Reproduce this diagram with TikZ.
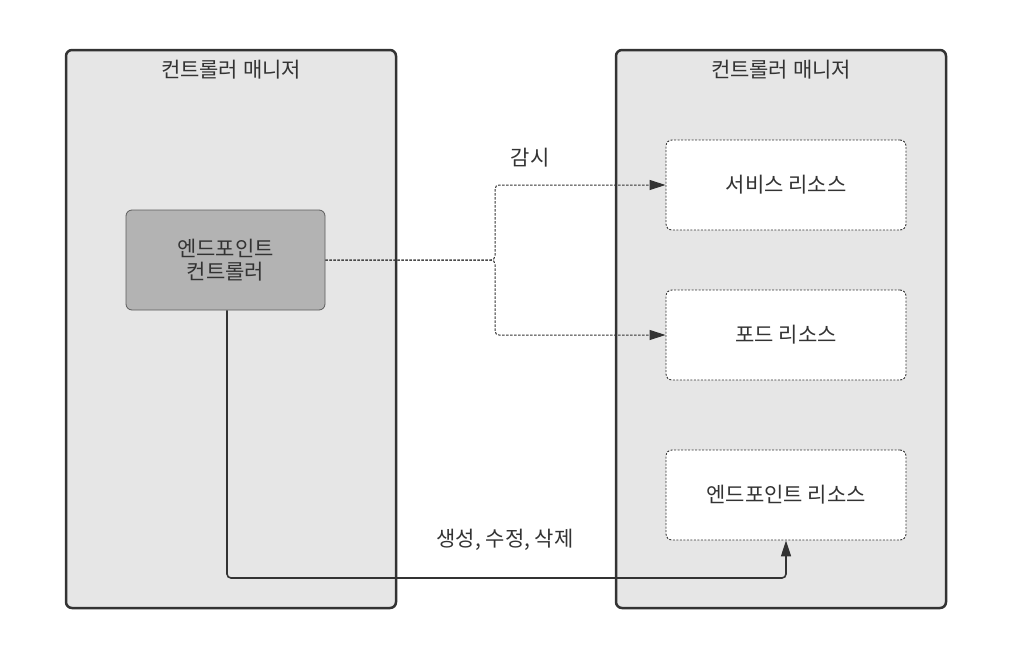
\documentclass[tikz,border=0pt]{standalone}
\usepackage{fontspec}
\setmainfont{Noto Sans CJK KR}
\usetikzlibrary{arrows.meta}
\definecolor{ink}{HTML}{333333}
\definecolor{panel}{HTML}{E6E6E6}
\definecolor{ctrl}{HTML}{B3B3B3}
\tikzset{
  txt/.style={font=\fontsize{21}{26}\selectfont, text=ink},
  container/.style={draw=ink, line width=2.5pt, fill=panel, rounded corners=6pt},
  ctrlbox/.style={txt, draw=ink!80, line width=0.8pt, fill=ctrl, rounded corners=6pt, minimum width=199pt, minimum height=100pt, align=center},
  resbox/.style={txt, draw=ink, line width=0.9pt, dash pattern=on 2pt off 1.5pt, fill=white, rounded corners=6pt, minimum width=240pt, minimum height=90pt},
  watch/.style={draw=ink, line width=1pt, dash pattern=on 2.5pt off 1.5pt, rounded corners=4pt, -{Triangle[length=16pt,width=10pt]}},
  write/.style={draw=ink, line width=1.6pt, rounded corners=4pt, -{Triangle[length=16pt,width=10pt]}}
}
\begin{document}
\begin{tikzpicture}[x=1pt,y=-1pt]
\useasboundingbox (0,0) rectangle (1012,659);
\fill[white] (0,0) rectangle (1012,659);
% containers
\draw[container] (66,50) rectangle (396,608);
\draw[container] (616,50) rectangle (946,608);
\node[txt] (t1) at (231,70) {컨트롤러 매니저};
\node[txt] (t2) at (781,70) {컨트롤러 매니저};
% nodes
\node[ctrlbox] (ec) at (225.5,260) {엔드포인트\\[-3pt]컨트롤러};
\node[resbox] (svc) at (786,185) {서비스 리소스};
\node[resbox] (pod) at (786,335) {포드 리소스};
\node[resbox] (epr) at (786,495) {엔드포인트 리소스};
% connectors
\coordinate (j) at (495,260);
\draw[watch] (ec.east) -- (j) |- (svc.west);
\draw[watch] (ec.east) -- (j) |- (pod.west);
\coordinate (b) at (227,578);
\draw[write] (ec.south -| b) -- (b) -| (epr.south);
% labels
\node[txt] (l1) at (530,158) {감시};
\node[txt] (l2) at (505,540) {생성, 수정, 삭제};
\end{tikzpicture}
\end{document}
